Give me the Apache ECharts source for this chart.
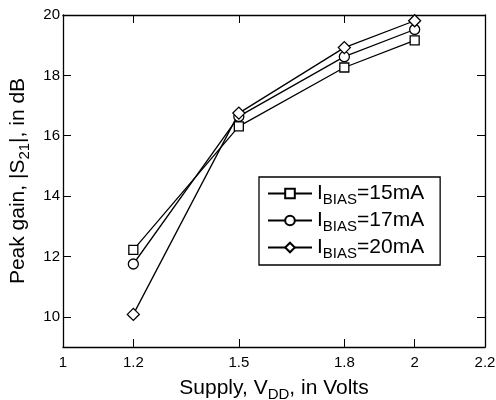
<!DOCTYPE html>
<html>
<head>
<meta charset="utf-8">
<script src="https://cdn.jsdelivr.net/npm/echarts@6/dist/echarts.min.js"></script>
<style>
  html, body { margin: 0; padding: 0; background: #fff; }
  #chart { width: 496px; height: 400px; }
</style>
</head>
<body>
<div id="chart"></div>
<script>
// supply voltage (V)
let vdd = [1.2, 1.5, 1.8, 2.0]
// peak gain |S21| in dB for each bias current
let gain15 = [12.22, 16.31, 18.26, 19.16]
let gain17 = [11.75, 16.64, 18.62, 19.52]
let gain20 = [10.08, 16.75, 18.92, 19.81]
let seriesNames = ['15mA', '17mA', '20mA']
let xTicks = [1, 1.2, 1.5, 1.8, 2, 2.2]
let yTicks = [10, 12, 14, 16, 18, 20]

const FONT = 'Liberation Sans, Arial, sans-serif'

let pairs = (ys) => vdd.map((x, i) => [x, ys[i]])

let lineSeries = (name, ys, symbol, size) => ({
  name: name,
  type: 'line',
  data: pairs(ys),
  symbol: symbol,
  symbolSize: size,
  showSymbol: true,
  lineStyle: { color: '#000', width: 1.3 },
  itemStyle: { color: '#fff', borderColor: '#000', borderWidth: 1.3 },
  emphasis: { disabled: true },
  animation: false
})

// 标题里的下标
let subRich = (big, small) => ({
  t: { fontFamily: FONT, fontSize: big, color: '#000' },
  s: { fontFamily: FONT, fontSize: small, color: '#000', padding: [12, 0, 0, 0] }
})

let baseAxis = {
  axisLine: { show: true, onZero: false, lineStyle: { color: '#000', width: 1.3 } },
  axisTick: { show: true, inside: true, length: 8, lineStyle: { color: '#000', width: 1 } },
  splitLine: { show: false }
}

let myChart = echarts.init(document.getElementById('chart'))
let option = {
  backgroundColor: '#fff',
  animation: false,
  grid: { left: 63, right: 11, top: 15, bottom: 53, outerBoundsMode: 'none', containLabel: false },
  xAxis: [
    Object.assign({}, baseAxis, {
      type: 'value', min: 1, max: 2.2, position: 'bottom',
      axisTick: Object.assign({}, baseAxis.axisTick, { customValues: xTicks }),
      axisLabel: { customValues: xTicks, color: '#000', fontFamily: FONT, fontSize: 15, margin: 8,
        formatter: v => String(Math.round(v * 10) / 10) },
      name: '{t|Supply, V}{s|DD}{t|, in Volts}',
      nameLocation: 'middle', nameGap: 28,
      nameTextStyle: { rich: subRich(21, 15) }
    }),
    Object.assign({}, baseAxis, {
      type: 'value', min: 1, max: 2.2, position: 'top',
      axisTick: Object.assign({}, baseAxis.axisTick, { customValues: xTicks }),
      axisLabel: { show: false }
    })
  ],
  yAxis: [
    Object.assign({}, baseAxis, {
      type: 'value', min: 9, max: 20, position: 'left',
      axisTick: Object.assign({}, baseAxis.axisTick, { customValues: yTicks }),
      axisLabel: { customValues: yTicks, color: '#000', fontFamily: FONT, fontSize: 15, margin: 3 },
      name: '{t|Peak gain, |S}{s|21}{t||, in dB}',
      nameLocation: 'middle', nameRotate: 90, nameGap: 31,
      nameTextStyle: { rich: subRich(21, 15) }
    }),
    Object.assign({}, baseAxis, {
      type: 'value', min: 9, max: 20, position: 'right',
      axisTick: Object.assign({}, baseAxis.axisTick, { customValues: yTicks }),
      axisLabel: { show: false }
    })
  ],
  legend: {
    orient: 'vertical',
    left: 259, top: 177,
    padding: [6, 16, 4, 8],
    itemGap: 3,
    itemWidth: 44, itemHeight: 12,
    backgroundColor: '#fff',
    borderColor: '#000', borderWidth: 1.3, borderRadius: 0,
    data: seriesNames,
    formatter: name => '{t|I}{s|BIAS}{t|=' + name + '}',
    textStyle: { rich: subRich(21, 15) }
  },
  series: [
    lineSeries(seriesNames[0], gain15, 'rect', 9),
    lineSeries(seriesNames[1], gain17, 'circle', 10),
    lineSeries(seriesNames[2], gain20, 'diamond', 12)
  ]
}
myChart.setOption(option)
</script>
</body>
</html>
